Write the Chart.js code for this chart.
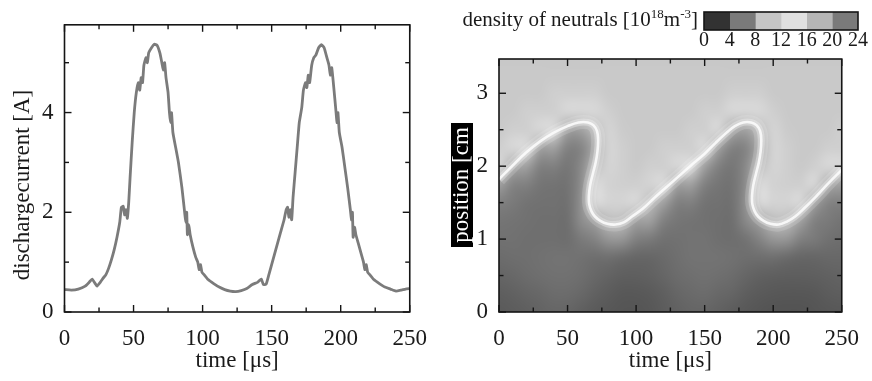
<!DOCTYPE html>
<html><head><meta charset="utf-8">
<script src="https://cdn.jsdelivr.net/npm/chart.js@4.4.1/dist/chart.umd.min.js"></script>
<style>
html,body{margin:0;padding:0;background:#fff;}
#wrap{position:relative;width:872px;height:381px;overflow:hidden;background:#fff;}
canvas{position:absolute;top:0;}
</style></head><body>
<div id="wrap">
<canvas id="left" width="440" height="381" style="left:0;width:440px;height:381px"></canvas>
<canvas id="right" width="432" height="381" style="left:440px;width:432px;height:381px"></canvas>
<canvas id="cbar" width="432" height="60" style="left:440px;width:432px;height:60px"></canvas>
</div>
<script>
// ---------- left panel: discharge current ----------
const timeUs = [0,5,10,15,18,20,22,23.5,26,28,
30,32,34,36,38,40,41.2,42.5,43.5,44.5,
45.5,46.5,47.5,49,50.5,52,53.5,54.5,55.5,56.5,
57.5,59,60,61,63,65,67,69,70.5,71.5,
72.5,73.5,75,76,76.8,77.5,78.5,80.5,82.5,85,
87,87.8,88.5,89,90,91,93,95,96.5,97.5,
98.5,99.5,101,104,108,112,116,120,124,128,
132,136,140,142.5,144,146,148,150,152,154,
156.5,159,160.5,161.5,162.5,163.5,164.5,165.5,167,168.5,
170,171.8,173,174.5,175.5,176.5,177.5,179,180.5,182,
184,186,188,190,191.5,192.5,193.5,195,196.5,197.3,
198,199,201,203,205,207,207.8,208.5,209,210,
211,213,215,216.5,217.5,218.5,219.5,221,224,228,
232,236,240,244,247,250];
const currentA = [0.45,0.44,0.46,0.52,0.6,0.66,0.58,0.52,0.6,0.68,
0.75,0.88,1.05,1.25,1.5,1.8,2.1,2.12,1.95,2.05,
1.88,2.2,2.7,3.4,4.0,4.4,4.6,4.45,4.7,4.6,
4.95,5.1,5.0,5.2,5.3,5.37,5.35,5.2,5.0,4.85,
5.0,4.7,4.4,4.0,3.8,4.0,3.6,3.3,3.0,2.5,
2.0,1.8,2.0,1.55,1.75,1.55,1.3,1.1,1.0,0.85,
0.95,0.8,0.75,0.65,0.57,0.5,0.45,0.42,0.41,0.43,
0.47,0.55,0.6,0.66,0.55,0.56,0.75,0.95,1.15,1.35,
1.6,1.85,2.05,2.1,1.9,2.05,1.85,2.3,2.8,3.3,
3.8,4.1,4.45,4.6,4.5,4.75,4.6,4.95,5.1,5.15,
5.3,5.36,5.3,5.1,4.95,4.75,4.9,4.5,4.05,3.8,
4.0,3.6,3.3,2.9,2.5,2.05,1.85,2.0,1.5,1.7,
1.55,1.35,1.15,1.0,0.85,0.95,0.8,0.75,0.65,0.57,
0.5,0.46,0.42,0.44,0.46,0.47];
const timeTicks = [0,50,100,150,200,250];
const timeMinorTicks = [25,75,125,175,225];
const currentTicks = [0,2,4];
const currentMinorTicks = [1,3,5];

// ---------- right panel: density of neutrals (10^18 m^-3) ----------
const gridTime = [0,10,20,30,40,50,60,70,80,90,100,110,120,130,140,150,160,170,180,190,200,210,220,230,240,250];
const gridPos = [3.5,3.25,3.0,2.75,2.5,2.25,2.0,1.75,1.5,1.25,1.0,0.75,0.5,0.25,0];
const densityGrid = [
[10.2,10.2,10.2,10.2,10.2,10.2,10.2,10.2,10.2,10.2,10.2,10.2,10.2,10.2,10.2,10.2,10.2,10.2,10.2,10.2,10.2,10.2,10.2,10.2,10.2,10.2],
[10.3,10.3,10.3,10.3,10.3,10.3,10.3,10.3,10.3,10.3,10.3,10.3,10.3,10.3,10.3,10.3,10.3,10.3,10.3,10.3,10.3,10.3,10.3,10.3,10.3,10.3],
[10.3,10.3,10.3,10.3,10.8,10.8,10.8,10.8,10.3,10.3,10.3,10.3,10.3,10.3,10.3,10.3,10.3,10.8,10.8,10.8,10.3,10.3,10.3,10.3,10.3,10.3],
[10.3,10.3,10.8,10.8,10.8,11.5,11.5,11.5,10.8,10.3,10.3,10.3,10.3,10.3,10.3,10.8,10.8,11.5,11.5,11.5,10.8,10.3,10.3,10.3,10.3,10.3],
[10.3,10.8,10.8,11.5,11.5,8.0,8.0,9.5,11.2,10.5,10.3,10.3,10.3,10.3,10.8,10.8,11.5,8.5,8.0,9.5,11.2,10.5,10.3,10.3,10.3,10.8],
[10.8,11.5,11.5,8.0,8.0,6.3,6.5,8.5,11.2,10.8,10.3,10.3,10.8,10.8,10.8,11.5,8.0,6.3,6.5,8.5,11.2,10.8,10.3,10.3,10.8,10.8],
[11.5,8.5,8.0,6.3,6.3,5.8,6.8,9.5,11.2,10.8,10.3,10.8,10.8,11.5,11.5,8.0,6.3,5.8,6.8,9.5,11.2,10.8,10.3,10.8,11.5,11.5],
[8.0,6.5,6.3,5.7,5.6,5.6,7.0,11.5,11.0,10.8,10.8,11.2,11.5,8.0,8.0,6.3,5.7,5.6,7.0,11.5,11.0,10.8,10.8,11.5,8.5,8.0],
[6.3,6.0,5.6,5.5,5.5,5.5,7.2,11.5,11.2,11.2,11.5,9.5,8.0,6.3,6.3,5.6,5.5,5.5,7.2,11.5,11.2,11.2,11.5,8.0,6.5,6.3],
[5.7,5.6,5.5,5.4,5.4,5.4,7.0,8.0,9.5,9.5,8.0,8.0,6.3,5.8,5.6,5.5,5.4,5.4,6.8,8.0,9.5,9.5,8.0,6.3,6.0,5.6],
[5.5,5.5,5.4,5.4,5.4,5.3,6.0,6.5,7.5,7.5,6.3,6.0,5.5,5.5,5.6,5.6,5.4,5.3,5.6,6.5,7.5,7.5,6.3,6.0,5.5,5.3],
[5.2,5.3,5.4,5.5,5.6,5.6,5.5,5.3,5.4,5.1,4.9,4.9,5.1,5.4,5.6,5.6,5.6,5.5,5.3,5.3,5.4,5.1,4.9,4.9,5.0,5.0],
[4.8,5.0,5.2,5.4,5.5,5.5,5.3,5.0,4.7,4.5,4.5,4.6,4.9,5.2,5.4,5.5,5.4,5.2,4.9,4.6,4.5,4.4,4.4,4.5,4.6,4.7],
[4.4,4.6,4.8,5.0,5.2,5.2,5.0,4.6,4.3,4.1,4.1,4.2,4.5,4.9,5.1,5.2,5.0,4.8,4.4,4.2,4.1,4.0,4.0,4.1,4.3,4.4],
[4.2,4.3,4.5,4.7,4.9,4.8,4.5,4.2,4.0,3.9,3.9,4.0,4.3,4.6,4.8,4.8,4.6,4.3,4.1,3.9,3.8,3.8,3.8,3.9,4.0,4.1]
];
// bright density front (white ridge)
const frontTime = [0,10,20,30,40,50,58,65,69,71.5,
72.3,71.8,70.5,68.5,66.5,65.6,65.8,67.5,70,74,
79,85,91,97,105,113,122,131,140,150,
158,166,172,178,184,188,190.5,191.3,190.8,189.5,
187.5,185.5,184.6,184.8,186.5,189,193,198,204,210,
216,223,231,240,250];
const frontPos = [1.82,2.01,2.19,2.34,2.46,2.55,2.6,2.6,2.56,2.48,
2.36,2.2,2.05,1.9,1.74,1.6,1.48,1.38,1.31,1.25,
1.21,1.2,1.23,1.31,1.42,1.56,1.71,1.86,2.01,2.17,
2.32,2.46,2.55,2.6,2.6,2.56,2.48,2.36,2.2,2.05,
1.9,1.74,1.6,1.48,1.38,1.31,1.25,1.21,1.2,1.24,
1.31,1.43,1.58,1.76,1.95];
const posTicks = [0,1,2,3];
const posMinorTicks = [0.5,1.5,2.5];

// ---------- colour bar ----------
const colorbarEdges = [0,4,8,12,16,20,24];
const colorbarGrays = ['#323232','#7a7a7a','#c6c6c6','#e0e0e0','#b6b6b6','#7a7a7a'];
const colormapStops = [[0,40],[2,51],[6,122],[10,197],[14,248],[18,181],[22,122],[24,110]];

const FONT = "'Liberation Serif','Times New Roman',serif";
const INK = '#1a1a1a';
Chart.defaults.font.family = FONT;
Chart.defaults.color = INK;

function grayFor(v){
  const s = colormapStops;
  if (v <= s[0][0]) return s[0][1];
  for (let i = 1; i < s.length; i++) {
    if (v <= s[i][0]) {
      const f = (v - s[i-1][0]) / (s[i][0] - s[i-1][0]);
      return Math.round(s[i-1][1] + f * (s[i][1] - s[i-1][1]));
    }
  }
  return s[s.length-1][1];
}

const framePlugin = {
  id: 'frame',
  afterDraw(chart, args, o) {
    const {ctx, chartArea: a, scales} = chart;
    ctx.save();
    ctx.strokeStyle = '#151515';
    ctx.lineWidth = 1.4;
    const drawX = (vals, len) => (vals || []).forEach(v => {
      const px = scales.x.getPixelForValue(v);
      ctx.beginPath(); ctx.moveTo(px, a.bottom); ctx.lineTo(px, a.bottom - len); ctx.stroke();
      ctx.beginPath(); ctx.moveTo(px, a.top); ctx.lineTo(px, a.top + len); ctx.stroke();
    });
    const drawY = (vals, len) => (vals || []).forEach(v => {
      const py = scales.y.getPixelForValue(v);
      ctx.beginPath(); ctx.moveTo(a.left, py); ctx.lineTo(a.left + len, py); ctx.stroke();
      ctx.beginPath(); ctx.moveTo(a.right, py); ctx.lineTo(a.right - len, py); ctx.stroke();
    });
    drawX(o.xMajor, 7); drawX(o.xMinor, 4.5);
    drawY(o.yMajor, 7); drawY(o.yMinor, 4.5);
    ctx.lineWidth = 1.6;
    ctx.strokeRect(a.left, a.top, a.right - a.left, a.bottom - a.top);
    ctx.restore();
  }
};

const yTitlePlugin = {
  id: 'ytitle',
  afterDraw(chart, args, o) {
    if (!o.text) return;
    const ctx = chart.ctx;
    ctx.save();
    ctx.font = '23px ' + FONT;
    if (o.box) {
      ctx.fillStyle = '#000';
      ctx.fillRect(o.box[0], o.box[1], o.box[2], o.box[3]);
    }
    ctx.translate(o.x, o.y);
    ctx.rotate(-Math.PI / 2);
    ctx.textAlign = 'center';
    ctx.textBaseline = 'alphabetic';
    ctx.fillStyle = o.color || INK;
    ctx.fillText(o.text, 0, 0);
    ctx.restore();
  }
};

const heatmapPlugin = {
  id: 'heatmap',
  beforeDatasetsDraw(chart) {
    const {ctx, chartArea: a, scales: {x, y}} = chart;
    const rows = gridPos.length, cols = gridTime.length;
    const off = document.createElement('canvas');
    off.width = cols; off.height = rows;
    const octx = off.getContext('2d');
    const img = octx.createImageData(cols, rows);
    for (let r = 0; r < rows; r++) for (let c = 0; c < cols; c++) {
      const g = grayFor(densityGrid[r][c]);
      const k = (r * cols + c) * 4;
      img.data[k] = g; img.data[k+1] = g; img.data[k+2] = g; img.data[k+3] = 255;
    }
    octx.putImageData(img, 0, 0);
    const dt = (gridTime[1] - gridTime[0]) / 2, dp = (gridPos[0] - gridPos[1]) / 2;
    const x0 = x.getPixelForValue(gridTime[0] - dt), x1 = x.getPixelForValue(gridTime[cols-1] + dt);
    const y0 = y.getPixelForValue(gridPos[0] + dp), y1 = y.getPixelForValue(gridPos[rows-1] - dp);
    ctx.save();
    ctx.beginPath(); ctx.rect(a.left, a.top, a.right - a.left, a.bottom - a.top); ctx.clip();
    ctx.imageSmoothingEnabled = true; ctx.imageSmoothingQuality = 'high';
    ctx.drawImage(off, x0, y0, x1 - x0, y1 - y0);
    ctx.restore();
  }
};

const cbarTitlePlugin = {
  id: 'cbtitle',
  afterDraw(chart) {
    const {ctx, chartArea: a} = chart;
    const parts = [['density of neutrals [10', 21, 0], ['18', 13, -8.5], ['m', 21, 0], ['-3', 13, -8.5], [']', 21, 0]];
    ctx.save();
    ctx.fillStyle = INK;
    ctx.textBaseline = 'alphabetic';
    let total = 0;
    parts.forEach(p => { ctx.font = p[1] + 'px ' + FONT; total += ctx.measureText(p[0]).width; });
    let xx = a.left - 6 - total;
    const base = 26;
    parts.forEach(p => {
      ctx.font = p[1] + 'px ' + FONT;
      ctx.fillText(p[0], xx, base + p[2]);
      xx += ctx.measureText(p[0]).width;
    });
    ctx.restore();
  }
};

const tickFont = {size: 23, family: FONT, lineHeight: 1.2};
function setTicks(arr) { return s => { s.ticks = arr.map(v => ({value: v})); }; }

// left chart
new Chart(document.getElementById('left'), {
  type: 'scatter',
  data: {datasets: [{
    data: timeUs.map((t, i) => ({x: t, y: currentA[i]})),
    showLine: true, borderColor: '#7b7b7b', borderWidth: 2.8, pointRadius: 0, tension: 0.15, clip: 0,
    borderJoinStyle: 'round'
  }]},
  options: {
    responsive: false, animation: false, devicePixelRatio: 1,
    layout: {padding: {top: 18, right: 22, left: 0, bottom: 0}},
    plugins: {legend: {display: false}, tooltip: {enabled: false},
      frame: {xMajor: timeTicks, xMinor: timeMinorTicks, yMajor: currentTicks, yMinor: currentMinorTicks},
      ytitle: {text: 'dischargecurrent [A]', x: 28.5, y: 185}},
    scales: {
      x: {type: 'linear', min: 0, max: 250, afterBuildTicks: setTicks(timeTicks),
        ticks: {font: tickFont, color: INK, padding: 13, maxRotation: 0},
        grid: {display: false, drawTicks: false}, border: {display: false},
        title: {display: true, text: 'time [μs]', font: tickFont, color: INK, padding: {top: 0, bottom: 6}},
        afterFit: s => { s.height = 69; }},
      y: {type: 'linear', min: 0, max: 5.76, afterBuildTicks: setTicks(currentTicks),
        ticks: {font: tickFont, color: INK, padding: 11},
        grid: {display: false, drawTicks: false}, border: {display: false},
        afterFit: s => { s.width = 64.5; }}
    }
  },
  plugins: [framePlugin, yTitlePlugin]
});

// right chart
const frontPoints = frontTime.map((t, i) => ({x: t, y: frontPos[i]}));
const ridge = (color, w) => ({data: frontPoints, showLine: true, borderColor: color, borderWidth: w,
  pointRadius: 0, tension: 0.4, clip: 0});
new Chart(document.getElementById('right'), {
  type: 'scatter',
  data: {datasets: [ridge('rgba(255,255,255,0.15)', 14), ridge('rgba(255,255,255,0.3)', 7), ridge('rgba(250,250,250,0.9)', 2.6)]},
  options: {
    responsive: false, animation: false, devicePixelRatio: 1,
    layout: {padding: {top: 59, right: 14.5, left: 0, bottom: 0}},
    plugins: {legend: {display: false}, tooltip: {enabled: false},
      frame: {xMajor: timeTicks, xMinor: timeMinorTicks, yMajor: posTicks, yMinor: posMinorTicks},
      ytitle: {text: 'position [cm', x: 27.5, y: 185, color: '#fff', box: [11, 123, 22, 124]}},
    scales: {
      x: {type: 'linear', min: 0, max: 250, afterBuildTicks: setTicks(timeTicks),
        ticks: {font: tickFont, color: INK, padding: 13, maxRotation: 0},
        grid: {display: false, drawTicks: false}, border: {display: false},
        title: {display: true, text: 'time [μs]', font: tickFont, color: INK, padding: {top: 0, bottom: 6}},
        afterFit: s => { s.height = 69; }},
      y: {type: 'linear', min: 0, max: 3.47, afterBuildTicks: setTicks(posTicks),
        ticks: {font: tickFont, color: INK, padding: 11},
        grid: {display: false, drawTicks: false}, border: {display: false},
        afterFit: s => { s.width = 59; }}
    }
  },
  plugins: [heatmapPlugin, framePlugin, yTitlePlugin]
});

// colour bar
new Chart(document.getElementById('cbar'), {
  type: 'bar',
  data: {labels: [''], datasets: colorbarGrays.map((g, i) => ({
    data: [[colorbarEdges[i], colorbarEdges[i+1]]], backgroundColor: g, borderWidth: 0,
    barPercentage: 1, categoryPercentage: 1, grouped: false
  }))},
  options: {
    indexAxis: 'y', responsive: false, animation: false, devicePixelRatio: 1,
    layout: {padding: {top: 12, right: 14, left: 264, bottom: 0}},
    plugins: {legend: {display: false}, tooltip: {enabled: false}, frame: {}},
    scales: {
      x: {type: 'linear', min: 0, max: 24, afterBuildTicks: setTicks(colorbarEdges),
        ticks: {font: {size: 20, family: FONT, lineHeight: 1}, color: INK, padding: 1, maxRotation: 0, autoSkip: false},
        grid: {display: false, drawTicks: false}, border: {display: false},
        afterFit: s => { s.height = 30; }},
      y: {display: false}
    }
  },
  plugins: [framePlugin, cbarTitlePlugin]
});
</script>
</body></html>
